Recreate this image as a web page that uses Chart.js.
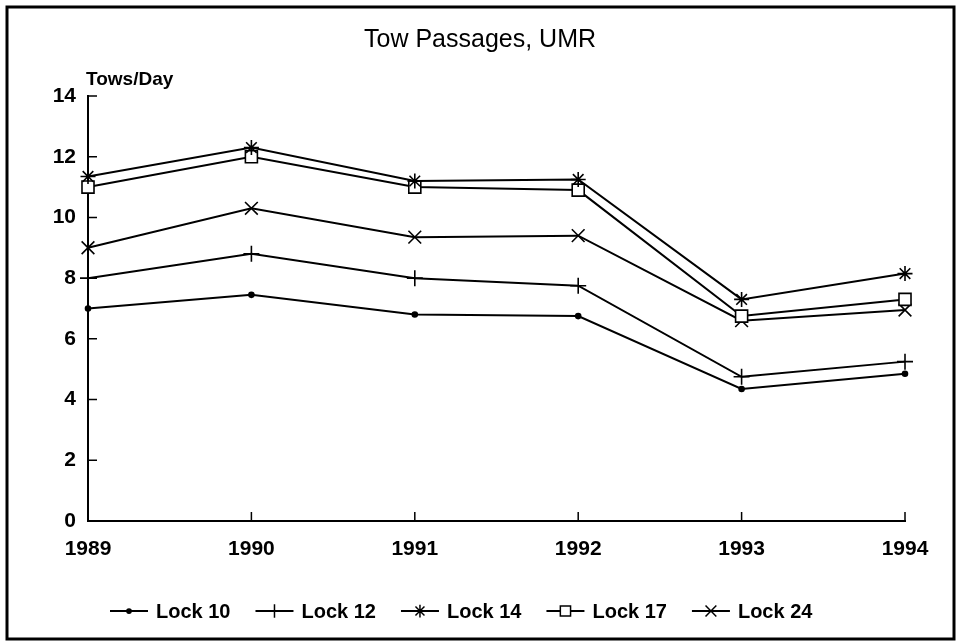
<!DOCTYPE html>
<html>
<head>
<meta charset="utf-8">
<script src="https://cdn.jsdelivr.net/npm/chart.js"></script>
<style>
  html, body { margin: 0; padding: 0; background: #fff; }
  #wrap { width: 961px; height: 643px; position: relative; }
</style>
</head>
<body>
<div id="wrap"><canvas id="towChart" width="961" height="643"></canvas></div>
<script>
// Tow passages per day at UMR locks
const years = ['1989', '1990', '1991', '1992', '1993', '1994'];
const lock10 = [7.0, 7.45, 6.8, 6.75, 4.35, 4.85];
const lock12 = [8.0, 8.8, 8.0, 7.75, 4.75, 5.25];
const lock14 = [11.35, 12.3, 11.2, 11.25, 7.3, 8.15];
const lock17 = [11.0, 12.0, 11.0, 10.9, 6.75, 7.3];
const lock24 = [9.0, 10.3, 9.35, 9.4, 6.6, 6.95];
const seriesNames = ['Lock 10', 'Lock 12', 'Lock 14', 'Lock 17', 'Lock 24'];
const yMin = 0, yMax = 14, yStep = 2;

const FONT = "'Liberation Sans', Arial, sans-serif";

function makeSeries(label, data, style, radius, fill) {
    return {
        label: label,
        data: data,
        borderColor: '#000',
        borderWidth: 2,
        tension: 0,
        fill: false,
        pointStyle: style,
        pointRadius: radius,
        pointHoverRadius: radius,
        pointBorderColor: '#000',
        pointBorderWidth: 1.6,
        pointBackgroundColor: fill
    };
}

// draws the frame, title, axis caption, inward tick marks and the legend
const decorations = {
    id: 'decorations',
    afterDraw(chart) {
        const ctx = chart.ctx;
        const xs = chart.scales.x;
        const ys = chart.scales.y;
        ctx.save();

        // outer frame
        ctx.strokeStyle = '#000';
        ctx.lineWidth = 3;
        ctx.strokeRect(7, 7, 947, 632);

        // title + y caption
        ctx.fillStyle = '#000';
        ctx.textBaseline = 'middle';
        ctx.textAlign = 'center';
        ctx.font = '25px ' + FONT;
        ctx.fillText('Tow Passages, UMR', 480, 40);
        ctx.textAlign = 'left';
        ctx.font = 'bold 19px ' + FONT;
        ctx.fillText('Tows/Day', 86, 80);

        // inward ticks
        ctx.lineWidth = 1.5;
        ctx.beginPath();
        ys.ticks.forEach(t => {
            const py = ys.getPixelForValue(t.value);
            if (t.value === yMin) return;
            ctx.moveTo(xs.left, py);
            ctx.lineTo(xs.left + 9, py);
        });
        years.forEach((y, i) => {
            if (i === 0) return;
            const px = xs.getPixelForValue(i);
            ctx.moveTo(px, ys.bottom);
            ctx.lineTo(px, ys.bottom - 9);
        });
        ctx.stroke();

        // legend
        let lx = 110;
        const ly = 611;
        chart.data.datasets.forEach(ds => {
            ctx.strokeStyle = '#000';
            ctx.lineWidth = 2;
            ctx.beginPath();
            ctx.moveTo(lx, ly);
            ctx.lineTo(lx + 38, ly);
            ctx.stroke();
            ctx.fillStyle = ds.pointBackgroundColor;
            ctx.lineWidth = 1.5;
            Chart.helpers.drawPoint(ctx, {
                pointStyle: ds.pointStyle,
                radius: ds.pointRadius * 0.85,
                rotation: 0,
                borderWidth: 1.5
            }, lx + 19, ly);
            ctx.fillStyle = '#000';
            ctx.font = 'bold 20px ' + FONT;
            ctx.textAlign = 'left';
            ctx.fillText(ds.label, lx + 46, ly + 1);
            lx += 46 + ctx.measureText(ds.label).width + 25;
        });

        ctx.restore();
    }
};

document.addEventListener('DOMContentLoaded', function() {
    const ctx = document.getElementById('towChart').getContext('2d');
    new Chart(ctx, {
        type: 'line',
        data: {
            labels: years,
            datasets: [
                makeSeries(seriesNames[0], lock10, 'circle', 2.5, '#000'),
                makeSeries(seriesNames[1], lock12, 'cross', 8, '#000'),
                makeSeries(seriesNames[2], lock14, 'star', 7.5, '#000'),
                makeSeries(seriesNames[3], lock17, 'rect', 8.5, '#fff'),
                makeSeries(seriesNames[4], lock24, 'crossRot', 9, '#000')
            ]
        },
        options: {
            responsive: false,
            animation: false,
            layout: {
                padding: { left: 0, right: 56, top: 96, bottom: 0 }
            },
            plugins: {
                legend: { display: false },
                title: { display: false },
                tooltip: { enabled: false }
            },
            scales: {
                x: {
                    offset: false,
                    grid: { display: false, drawTicks: false },
                    border: { display: true, color: '#000', width: 2 },
                    ticks: {
                        color: '#000',
                        padding: 16,
                        maxRotation: 0,
                        font: { family: FONT, size: 21, weight: 'bold' }
                    },
                    afterFit(scale) { scale.height = 122; }
                },
                y: {
                    min: yMin,
                    max: yMax,
                    grid: { display: false, drawTicks: false },
                    border: { display: true, color: '#000', width: 2 },
                    ticks: {
                        stepSize: yStep,
                        color: '#000',
                        padding: 12,
                        font: { family: FONT, size: 21, weight: 'bold' }
                    },
                    afterFit(scale) { scale.width = 88; }
                }
            }
        },
        plugins: [decorations]
    });
});
</script>
</body>
</html>
